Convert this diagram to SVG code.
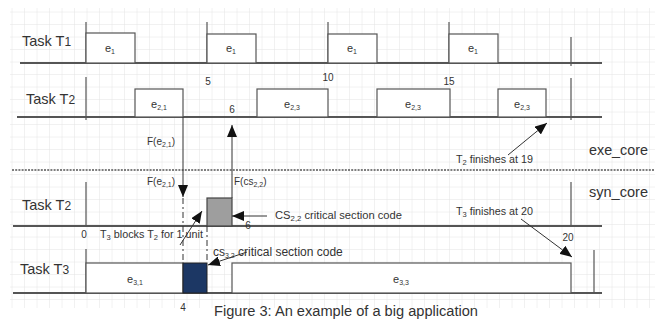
<svg xmlns="http://www.w3.org/2000/svg" width="655" height="322" viewBox="0 0 655 322">
<style>
text{font-family:"Liberation Sans","Open Sans",Arial,sans-serif;fill:#333}
.lbl{font-size:14.5px}
.big{font-size:15.5px}
.sm{font-size:10px}
.e{font-size:11px;text-anchor:middle}
.num{font-size:10px;text-anchor:middle}
.sub{font-size:7px}
.base{stroke:#555;stroke-width:2;fill:none}
.tick{stroke:#555;stroke-width:1.2;fill:none}
.box{fill:#fff;stroke:#555;stroke-width:1.2}
.conn{stroke:#333;stroke-width:1;fill:none}
</style>
<defs>
<pattern id="grid" width="12.5" height="12.5" patternUnits="userSpaceOnUse">
<path d="M12.5 0V12.5M0 12.5H12.5" stroke="#e4e4e4" stroke-width="1" fill="none"/>
</pattern>
<marker id="ah" markerWidth="12" markerHeight="10" refX="12" refY="5" orient="auto" markerUnits="userSpaceOnUse">
<path d="M0,0 L12,5 L0,10 z" fill="#111"/>
</marker>
</defs>
<rect width="655" height="322" fill="#fff"/>
<rect x="10" y="8" width="645" height="300" fill="url(#grid)"/>

<g id="row-t1">
<text class="lbl" x="22" y="46">Task T<tspan font-size="12">1</tspan></text>
<line class="base" x1="20" y1="63" x2="602" y2="63"/>
<line class="tick" x1="86" y1="22" x2="86" y2="63"/>
<line class="tick" x1="207" y1="22" x2="207" y2="63"/>
<line class="tick" x1="328" y1="22" x2="328" y2="63"/>
<line class="tick" x1="449" y1="22" x2="449" y2="63"/>
<line class="tick" x1="571" y1="37" x2="571" y2="66"/>
<rect class="box" x="86" y="33" width="49" height="30"/>
<rect class="box" x="207" y="34" width="49" height="29"/>
<rect class="box" x="328" y="34" width="49" height="29"/>
<rect class="box" x="449" y="34" width="49" height="29"/>
<text class="e" x="110" y="52">e<tspan class="sub" dy="2">1</tspan></text>
<text class="e" x="231" y="52">e<tspan class="sub" dy="2">1</tspan></text>
<text class="e" x="352" y="52">e<tspan class="sub" dy="2">1</tspan></text>
<text class="e" x="473" y="52">e<tspan class="sub" dy="2">1</tspan></text>
<text class="num" x="208" y="85">5</text>
<text class="num" x="328" y="81">10</text>
<text class="num" x="449" y="85">15</text>
</g>

<g id="row-t2-exe">
<text class="lbl" x="26" y="104">Task T<tspan font-size="12">2</tspan></text>
<line class="base" x1="17" y1="117" x2="602" y2="117"/>
<line class="tick" x1="86" y1="77" x2="86" y2="120"/>
<line class="tick" x1="571" y1="78" x2="571" y2="120"/>
<rect class="box" x="135" y="89" width="48" height="28"/>
<rect class="box" x="257" y="89" width="71" height="28"/>
<rect class="box" x="377" y="89" width="73" height="28"/>
<rect class="box" x="498" y="89" width="48" height="28"/>
<text class="e" x="159" y="108">e<tspan class="sub" dy="2">2,1</tspan></text>
<text class="e" x="292" y="108">e<tspan class="sub" dy="2">2,3</tspan></text>
<text class="e" x="413" y="108">e<tspan class="sub" dy="2">2,3</tspan></text>
<text class="e" x="522" y="108">e<tspan class="sub" dy="2">2,3</tspan></text>
<text class="num" x="232" y="113">6</text>
</g>

<g id="separator">
<line x1="12" y1="170" x2="655" y2="170" stroke="#555" stroke-width="1.6" stroke-dasharray="2 1.2"/>
<text class="big" x="589" y="155" textLength="59" lengthAdjust="spacingAndGlyphs">exe_core</text>
<text class="big" x="589" y="197" textLength="59" lengthAdjust="spacingAndGlyphs">syn_core</text>
</g>

<g id="row-t2-syn">
<text class="lbl" x="22" y="210">Task T<tspan font-size="12">2</tspan></text>
<line class="base" x1="13" y1="226" x2="602" y2="226"/>
<line class="tick" x1="86" y1="182" x2="86" y2="226"/>
<line class="tick" x1="571" y1="182" x2="571" y2="226"/>
<rect x="207" y="198" width="25" height="28" fill="#9e9e9e" stroke="#444" stroke-width="1.2"/>
<text class="num" x="248" y="229">6</text>
<text class="num" x="84" y="238">0</text>
<text class="num" x="568" y="241">20</text>
</g>

<g id="row-t3">
<text class="lbl" x="20" y="274">Task T<tspan font-size="12">3</tspan></text>
<line class="base" x1="13" y1="293" x2="602" y2="293"/>
<line class="tick" x1="86" y1="249" x2="86" y2="293"/>
<line class="tick" x1="594" y1="250" x2="594" y2="293"/>
<rect class="box" x="86" y="263" width="97" height="30"/>
<rect x="183" y="263" width="24" height="30" fill="#1c3764" stroke="#222" stroke-width="1"/>
<rect class="box" x="232" y="263" width="339" height="30"/>
<text class="e" x="135" y="283">e<tspan class="sub" dy="2">3,1</tspan></text>
<text class="e" x="401" y="283">e<tspan class="sub" dy="2">3,3</tspan></text>
<text class="num" x="183" y="311">4</text>
</g>

<g id="connectors">
<line class="conn" x1="183" y1="117" x2="183" y2="197" marker-end="url(#ah)"/>
<line class="conn" x1="183" y1="198" x2="183" y2="263" stroke-dasharray="6 3 2 3"/>
<line class="conn" x1="207" y1="226" x2="207" y2="263" stroke-dasharray="6 3 2 3"/>
<line class="conn" x1="232" y1="198" x2="232" y2="125" marker-end="url(#ah)"/>
<line class="conn" x1="267" y1="216" x2="232" y2="216" marker-end="url(#ah)"/>
<line class="conn" x1="180" y1="245" x2="202" y2="211" marker-end="url(#ah)"/>
<line class="conn" x1="247" y1="252" x2="208" y2="265" marker-end="url(#ah)"/>
<line class="conn" x1="508" y1="155" x2="547" y2="123" marker-end="url(#ah)"/>
<line class="conn" x1="521" y1="219" x2="572" y2="257" marker-end="url(#ah)"/>
</g>

<g id="labels">
<text class="sm" x="147" y="145">F(e<tspan class="sub" dy="2">2,1</tspan><tspan dy="-2">)</tspan></text>
<text class="sm" x="147" y="185">F(e<tspan class="sub" dy="2">2,1</tspan><tspan dy="-2">)</tspan></text>
<text class="sm" x="234" y="185">F(cs<tspan class="sub" dy="2">2,2</tspan><tspan dy="-2">)</tspan></text>
<text class="sm" x="275" y="219" textLength="127" lengthAdjust="spacingAndGlyphs">CS<tspan class="sub" dy="2">2,2</tspan><tspan dy="-2"> critical section code</tspan></text>
<text class="sm" x="100" y="238" textLength="103" lengthAdjust="spacingAndGlyphs">T<tspan class="sub" dy="2">3</tspan><tspan dy="-2"> blocks T</tspan><tspan class="sub" dy="2">2</tspan><tspan dy="-2"> for 1 unit</tspan></text>
<text font-size="12" x="213" y="256">cs<tspan class="sub" dy="2">3,2</tspan><tspan dy="-2"> critical section code</tspan></text>
<text class="sm" x="456" y="163" textLength="77" lengthAdjust="spacingAndGlyphs">T<tspan class="sub" dy="2">2</tspan><tspan dy="-2"> finishes at 19</tspan></text>
<text class="sm" x="456" y="215" textLength="77" lengthAdjust="spacingAndGlyphs">T<tspan class="sub" dy="2">3</tspan><tspan dy="-2"> finishes at 20</tspan></text>
<text font-size="14" x="214" y="316" textLength="264" lengthAdjust="spacingAndGlyphs">Figure 3: An example of a big application</text>
</g>
</svg>
